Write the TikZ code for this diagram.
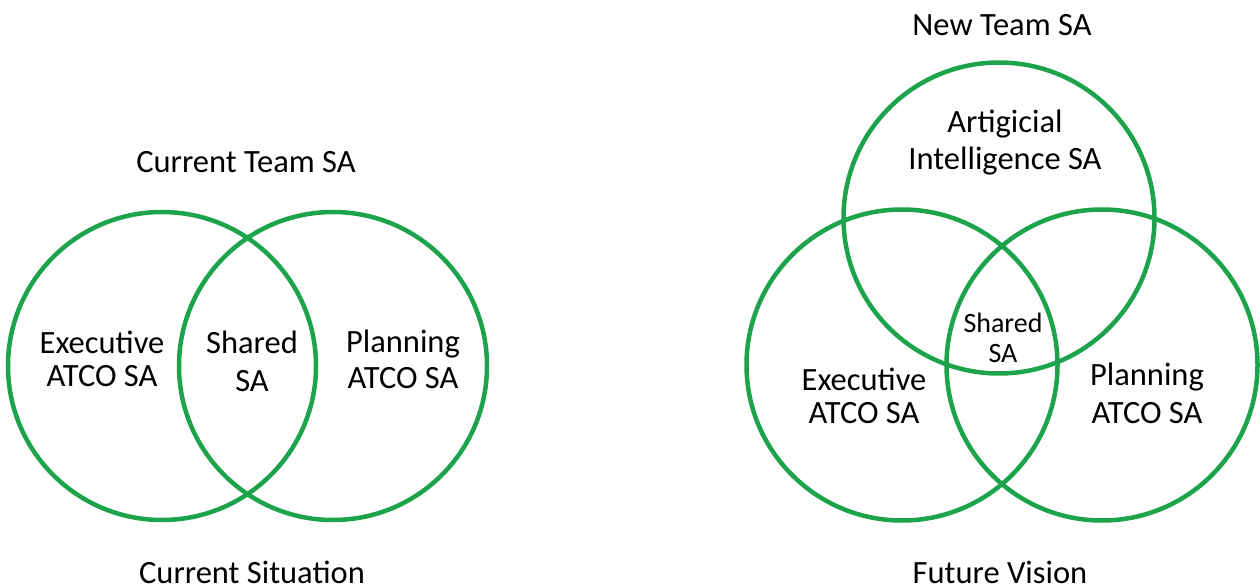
\documentclass[tikz,border=0pt]{standalone}
\usepackage{fontspec}
\setmainfont{Carlito}
\definecolor{venngreen}{RGB}{28,163,75}
\tikzset{
  ring/.style={draw=venngreen, line width=4.5pt},
  lbl/.style={anchor=base, align=center, inner sep=0pt, font=\fontsize{32.5}{33}\selectfont},
  smalllbl/.style={anchor=base, align=center, inner sep=0pt, font=\fontsize{28}{30}\selectfont}
}
\begin{document}
\begin{tikzpicture}[x=1pt,y=-1pt]
\useasboundingbox (0,0) rectangle (1260,588);
% left diagram
\coordinate (L1) at (162,366);
\coordinate (L2) at (333,366);
\draw[ring] (L1) circle (154pt);
\draw[ring] (L2) circle (154pt);
\node[lbl] (curteam) at (246,173) {Current Team SA};
\node[lbl] (lexec) at (102,386) {Executive\\ATCO SA};
\node[lbl] (lshared) at (252,391) {Shared\\[5pt]SA};
\node[lbl] (lplan) at (403,388) {Planning\\[3pt]ATCO SA};
\node[lbl] (cursit) at (252,583) {Current Situation};
% right diagram
\coordinate (R1) at (999,218);
\coordinate (R2) at (902,365);
\coordinate (R3) at (1102,365);
\draw[ring] (R1) circle (155.5pt);
\draw[ring] (R2) circle (155.5pt);
\draw[ring] (R3) circle (155.5pt);
\node[lbl] (newteam) at (1002,36) {New Team SA};
\node[lbl] (ai) at (1005,170) {Artigicial\\[4pt]Intelligence SA};
\node[smalllbl] (rshared) at (1003,362) {Shared\\SA};
\node[lbl] (rexec) at (864,423) {Executive\\ATCO SA};
\node[lbl] (rplan) at (1147,423) {Planning\\[5pt]ATCO SA};
\node[lbl] (future) at (1000,583) {Future Vision};
\end{tikzpicture}
\end{document}
